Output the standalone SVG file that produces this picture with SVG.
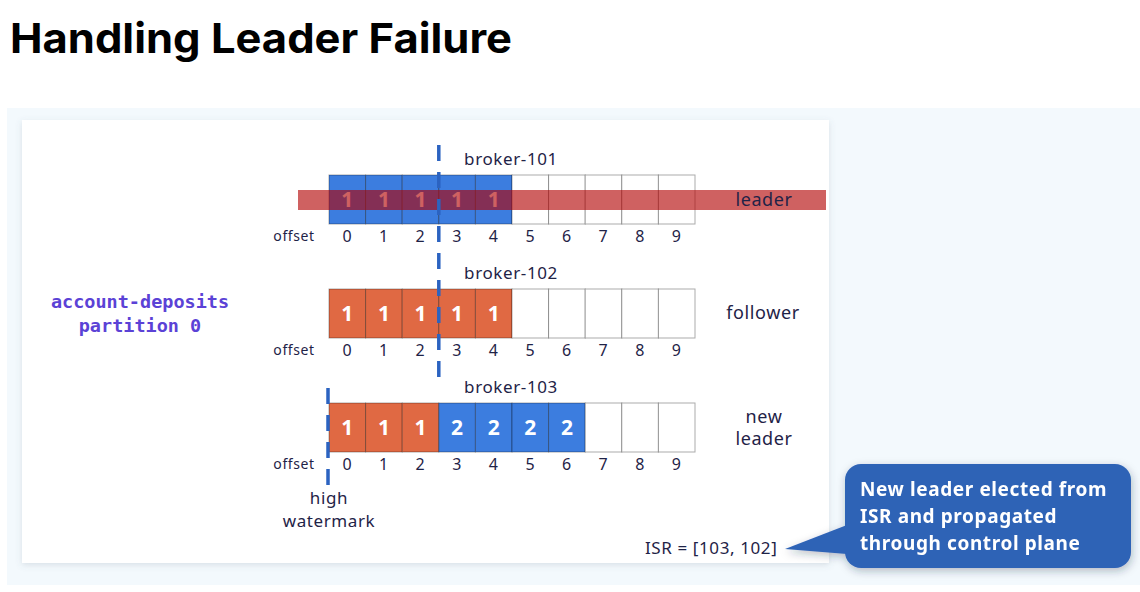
<svg xmlns="http://www.w3.org/2000/svg" width="1140" height="592" viewBox="0 0 1140 592">
  <defs>
    <filter id="shadow" x="-5%" y="-5%" width="110%" height="115%">
      <feDropShadow dx="0" dy="2" stdDeviation="3" flood-color="#5a6a80" flood-opacity="0.18"/>
    </filter>
    <filter id="cshadow" x="-10%" y="-10%" width="125%" height="130%">
      <feDropShadow dx="1" dy="3" stdDeviation="4" flood-color="#1a2a40" flood-opacity="0.3"/>
    </filter>
    <style>
      .lbl{font-family:"Noto Sans","Open Sans",sans-serif;fill:#1f2347;letter-spacing:0.6px}
      .brk{font-size:17px;text-anchor:middle}
      .role{font-size:18px;text-anchor:middle}
      .off{font-size:16px;text-anchor:middle}
      .offw{font-size:14px;text-anchor:middle}
      .cell{stroke:#000;stroke-opacity:0.33;stroke-width:1}
      .w{fill:#ffffff}
      .o{fill:#e06943}
      .b{fill:#3c7ddf}
      .num{font-family:"Noto Sans","Open Sans",sans-serif;font-weight:700;font-size:21px;fill:#ffffff;text-anchor:middle}
      .dash{stroke:#2b63c1;stroke-width:3.5;stroke-dasharray:16 11;fill:none}
      .mono{font-family:"DejaVu Sans Mono","Liberation Mono",monospace;font-weight:700;font-size:18.5px;fill:#5b42d6;text-anchor:middle}
      .call{font-family:"Noto Sans","Open Sans",sans-serif;font-weight:700;font-size:19px;fill:#ffffff;letter-spacing:0.6px}
    </style>
  </defs>

  <rect width="1140" height="592" fill="#ffffff"/>

  <g id="title">
    <text x="10" y="53" font-family="Inter,'Noto Sans',sans-serif" font-weight="700" font-size="41" fill="#000000" textLength="502" lengthAdjust="spacingAndGlyphs">Handling Leader Failure</text>
  </g>

  <g id="panel">
    <rect x="7" y="108" width="1133" height="477" fill="#f3f9fd"/>
    <rect x="22" y="120" width="807" height="443" fill="#ffffff" filter="url(#shadow)"/>
  </g>

  <g id="topic-label">
    <text class="mono" x="140" y="308">account-deposits</text>
    <text class="mono" x="140" y="332">partition 0</text>
  </g>

  <g id="broker-101">
    <text class="lbl brk" x="511" y="165">broker-101</text>
    <rect class="cell b" x="329" y="175" width="36.6" height="49"/>
    <rect class="cell b" x="365.6" y="175" width="36.6" height="49"/>
    <rect class="cell b" x="402.2" y="175" width="36.6" height="49"/>
    <rect class="cell b" x="438.8" y="175" width="36.6" height="49"/>
    <rect class="cell b" x="475.4" y="175" width="36.6" height="49"/>
    <rect class="cell w" x="512" y="175" width="36.6" height="49"/>
    <rect class="cell w" x="548.6" y="175" width="36.6" height="49"/>
    <rect class="cell w" x="585.2" y="175" width="36.6" height="49"/>
    <rect class="cell w" x="621.8" y="175" width="36.6" height="49"/>
    <rect class="cell w" x="658.4" y="175" width="36.6" height="49"/>
    <text class="num" x="347.3" y="207">1</text>
    <text class="num" x="383.9" y="207">1</text>
    <text class="num" x="420.5" y="207">1</text>
    <text class="num" x="457.1" y="207">1</text>
    <text class="num" x="493.7" y="207">1</text>
    <rect x="298" y="190" width="528" height="20" fill="#b20000" fill-opacity="0.62"/>
    <text class="lbl role" x="764" y="206">leader</text>
    <text class="lbl offw" x="294" y="241">offset</text>
    <text class="lbl off" x="347.3" y="242">0</text>
    <text class="lbl off" x="383.9" y="242">1</text>
    <text class="lbl off" x="420.5" y="242">2</text>
    <text class="lbl off" x="457.1" y="242">3</text>
    <text class="lbl off" x="493.7" y="242">4</text>
    <text class="lbl off" x="530.3" y="242">5</text>
    <text class="lbl off" x="566.9" y="242">6</text>
    <text class="lbl off" x="603.5" y="242">7</text>
    <text class="lbl off" x="640.1" y="242">8</text>
    <text class="lbl off" x="676.7" y="242">9</text>
  </g>

  <g id="broker-102">
    <text class="lbl brk" x="511" y="279">broker-102</text>
    <rect class="cell o" x="329" y="289" width="36.6" height="49"/>
    <rect class="cell o" x="365.6" y="289" width="36.6" height="49"/>
    <rect class="cell o" x="402.2" y="289" width="36.6" height="49"/>
    <rect class="cell o" x="438.8" y="289" width="36.6" height="49"/>
    <rect class="cell o" x="475.4" y="289" width="36.6" height="49"/>
    <rect class="cell w" x="512" y="289" width="36.6" height="49"/>
    <rect class="cell w" x="548.6" y="289" width="36.6" height="49"/>
    <rect class="cell w" x="585.2" y="289" width="36.6" height="49"/>
    <rect class="cell w" x="621.8" y="289" width="36.6" height="49"/>
    <rect class="cell w" x="658.4" y="289" width="36.6" height="49"/>
    <text class="num" x="347.3" y="321">1</text>
    <text class="num" x="383.9" y="321">1</text>
    <text class="num" x="420.5" y="321">1</text>
    <text class="num" x="457.1" y="321">1</text>
    <text class="num" x="493.7" y="321">1</text>
    <text class="lbl role" x="763" y="319">follower</text>
    <text class="lbl offw" x="294" y="355">offset</text>
    <text class="lbl off" x="347.3" y="356">0</text>
    <text class="lbl off" x="383.9" y="356">1</text>
    <text class="lbl off" x="420.5" y="356">2</text>
    <text class="lbl off" x="457.1" y="356">3</text>
    <text class="lbl off" x="493.7" y="356">4</text>
    <text class="lbl off" x="530.3" y="356">5</text>
    <text class="lbl off" x="566.9" y="356">6</text>
    <text class="lbl off" x="603.5" y="356">7</text>
    <text class="lbl off" x="640.1" y="356">8</text>
    <text class="lbl off" x="676.7" y="356">9</text>
  </g>

  <g id="broker-103">
    <text class="lbl brk" x="511" y="393">broker-103</text>
    <rect class="cell o" x="329" y="403" width="36.6" height="49"/>
    <rect class="cell o" x="365.6" y="403" width="36.6" height="49"/>
    <rect class="cell o" x="402.2" y="403" width="36.6" height="49"/>
    <rect class="cell b" x="438.8" y="403" width="36.6" height="49"/>
    <rect class="cell b" x="475.4" y="403" width="36.6" height="49"/>
    <rect class="cell b" x="512" y="403" width="36.6" height="49"/>
    <rect class="cell b" x="548.6" y="403" width="36.6" height="49"/>
    <rect class="cell w" x="585.2" y="403" width="36.6" height="49"/>
    <rect class="cell w" x="621.8" y="403" width="36.6" height="49"/>
    <rect class="cell w" x="658.4" y="403" width="36.6" height="49"/>
    <text class="num" x="347.3" y="435">1</text>
    <text class="num" x="383.9" y="435">1</text>
    <text class="num" x="420.5" y="435">1</text>
    <text class="num" x="457.1" y="435">2</text>
    <text class="num" x="493.7" y="435">2</text>
    <text class="num" x="530.3" y="435">2</text>
    <text class="num" x="566.9" y="435">2</text>
    <text class="lbl role" x="764" y="423">new</text>
    <text class="lbl role" x="764" y="445">leader</text>
    <text class="lbl offw" x="294" y="469">offset</text>
    <text class="lbl off" x="347.3" y="470">0</text>
    <text class="lbl off" x="383.9" y="470">1</text>
    <text class="lbl off" x="420.5" y="470">2</text>
    <text class="lbl off" x="457.1" y="470">3</text>
    <text class="lbl off" x="493.7" y="470">4</text>
    <text class="lbl off" x="530.3" y="470">5</text>
    <text class="lbl off" x="566.9" y="470">6</text>
    <text class="lbl off" x="603.5" y="470">7</text>
    <text class="lbl off" x="640.1" y="470">8</text>
    <text class="lbl off" x="676.7" y="470">9</text>
  </g>

  <g id="connectors">
    <line class="dash" x1="438.8" y1="145" x2="438.8" y2="377"/>
    <line class="dash" x1="328" y1="388" x2="328" y2="485"/>
  </g>

  <g id="high-watermark">
    <text class="lbl brk" x="329" y="504">high</text>
    <text class="lbl brk" x="329" y="527">watermark</text>
  </g>

  <g id="isr">
    <text class="lbl" x="645" y="554" font-size="17">ISR = [103, 102]</text>
  </g>

  <g id="callout" filter="url(#cshadow)">
    <rect x="845" y="464" width="286" height="104" rx="16" fill="#2f63b6"/>
    <polygon points="785,549 847,525 847,554" fill="#2f63b6"/>
    <text class="call" x="860" y="496">New leader elected from</text>
    <text class="call" x="860" y="523">ISR and propagated</text>
    <text class="call" x="860" y="550">through control plane</text>
  </g>
</svg>
